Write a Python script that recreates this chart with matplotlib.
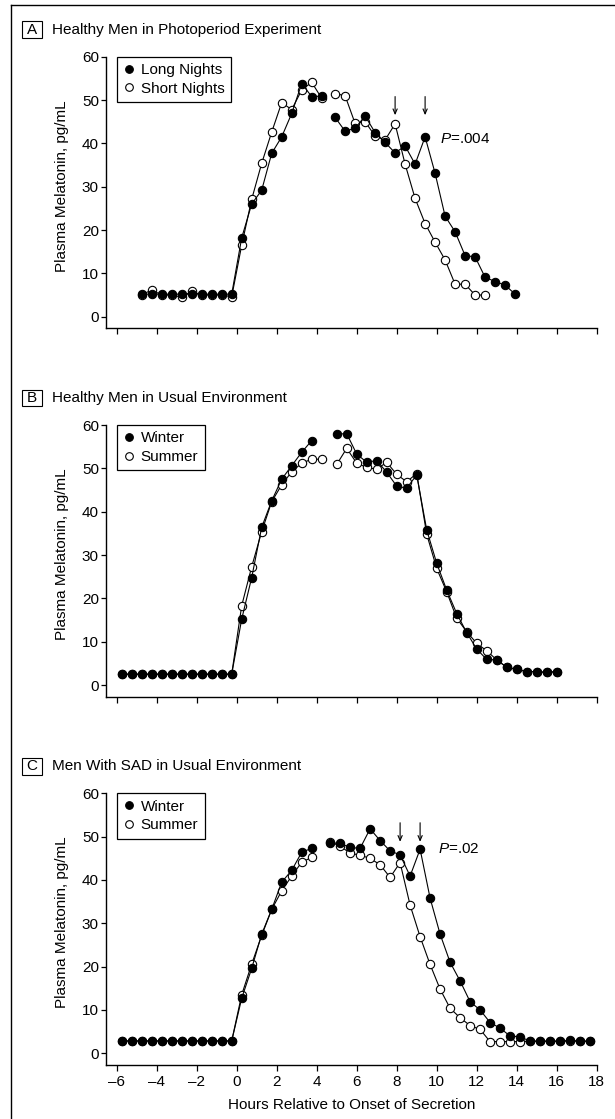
import matplotlib
matplotlib.use("Agg")
import matplotlib.pyplot as plt
from matplotlib.lines import Line2D
from matplotlib.patches import Rectangle

FONT = 'Liberation Sans'
plt.rcParams['font.family'] = [FONT, 'DejaVu Sans']
plt.rcParams['mathtext.fontset'] = 'custom'
plt.rcParams['mathtext.it'] = FONT + ':italic'
plt.rcParams['mathtext.rm'] = FONT

# ---------------- data ----------------
# Panel A
A_t_pre = [-4.75, -4.25, -3.75, -3.25, -2.75, -2.25, -1.75, -1.25, -0.75, -0.25,
           0.25, 0.75, 1.25, 1.75, 2.25, 2.75, 3.25, 3.75, 4.25]
A_long_pre = [5.2, 5.2, 5.2, 5.2, 5.2, 5.2, 5.2, 5.2, 5.2, 5.2,
              18.2, 26.0, 29.2, 37.7, 41.5, 46.9, 53.8, 50.8, 50.9]
A_short_pre = [5.0, 6.2, 5.0, 5.0, 4.5, 5.9, 5.0, 5.0, 5.0, 4.6,
               16.5, 27.1, 35.4, 42.6, 49.4, 47.8, 52.3, 54.1, 50.4]
A_t_post = [4.92, 5.42, 5.92, 6.42, 6.92, 7.42, 7.92, 8.42, 8.92, 9.42,
            9.92, 10.42, 10.92, 11.42, 11.92, 12.42, 12.92, 13.42, 13.92]
A_long_post = [46.0, 42.8, 43.5, 46.3, 42.5, 40.2, 37.8, 39.4, 35.2, 41.5,
               33.1, 23.2, 19.6, 14.1, 13.8, 9.1, 8.1, 7.3, 5.2]
A_short_post = [51.5, 51.0, 44.6, 45.0, 41.7, 40.8, 44.5, 35.2, 27.3, 21.5,
                17.2, 13.1, 7.5, 7.5, 5.0, 5.0]
A_arrows_t = [7.92, 9.42]

# Panel B
B_t_pre = [-5.75, -5.25, -4.75, -4.25, -3.75, -3.25, -2.75, -2.25, -1.75, -1.25, -0.75, -0.25,
           0.25, 0.75, 1.25, 1.75, 2.25, 2.75, 3.25, 3.75, 4.25]
B_winter_pre = [2.5, 2.5, 2.5, 2.5, 2.5, 2.5, 2.5, 2.5, 2.5, 2.5, 2.5, 2.5,
                15.2, 24.8, 36.4, 42.5, 47.5, 50.6, 53.7, 56.4]
B_summer_pre = [2.5, 2.5, 2.5, 2.5, 2.5, 2.5, 2.5, 2.5, 2.5, 2.5, 2.5, 2.5,
                18.3, 27.3, 35.4, 42.3, 46.2, 49.2, 51.2, 52.1, 52.1]
B_t_post = [5.0, 5.5, 6.0, 6.5, 7.0, 7.5, 8.0, 8.5, 9.0, 9.5, 10.0, 10.5,
            11.0, 11.5, 12.0, 12.5, 13.0, 13.5, 14.0, 14.5, 15.0, 15.5, 16.0]
B_winter_post = [57.9, 58.0, 53.3, 51.4, 51.8, 49.1, 45.9, 45.4, 48.5, 35.8, 28.1, 21.9,
                 16.5, 12.1, 8.3, 5.9, 5.8, 4.1, 3.6, 3.1, 3.1, 2.9, 3.1]
B_summer_post = [50.9, 54.6, 51.2, 50.2, 49.8, 51.4, 48.6, 46.9, 48.8, 34.8, 26.9, 21.5,
                 15.4, 12.3, 9.6, 7.9, 5.8, 4.1, 3.6, 3.1, 3.1, 2.9, 3.1]

# Panel C
C_t_pre = [-5.75, -5.25, -4.75, -4.25, -3.75, -3.25, -2.75, -2.25, -1.75, -1.25, -0.75, -0.25,
           0.25, 0.75, 1.25, 1.75, 2.25, 2.75, 3.25, 3.75]
C_winter_pre = [2.85, 2.85, 2.85, 2.85, 2.85, 2.85, 2.85, 2.85, 2.85, 2.85, 2.85, 2.85,
                12.7, 19.6, 27.5, 33.2, 39.5, 42.2, 46.4, 47.3]
C_summer_pre = [2.85, 2.85, 2.85, 2.85, 2.85, 2.85, 2.85, 2.85, 2.85, 2.85, 2.85, 2.85,
                13.5, 20.6, 27.2, 33.2, 37.5, 40.9, 44.1, 45.2]
C_t_post = [4.67, 5.17, 5.67, 6.17, 6.67, 7.17, 7.67, 8.17, 8.67, 9.17, 9.67, 10.17, 10.67,
            11.17, 11.67, 12.17, 12.67, 13.17, 13.67, 14.17, 14.67, 15.17, 15.67, 16.17,
            16.67, 17.17, 17.67]
C_winter_post = [48.5, 48.5, 47.5, 47.3, 51.8, 49.1, 46.7, 45.8, 40.9, 47.1, 35.8, 27.5, 21.0,
                 16.7, 11.9, 10.0, 7.1, 5.8, 4.0, 3.8, 2.8, 2.8, 2.8, 2.8, 3.0, 2.8, 2.8]
C_summer_post = [48.8, 47.8, 46.2, 45.7, 45.0, 43.5, 40.6, 44.0, 34.2, 26.9, 20.5, 14.8, 10.4,
                 8.2, 6.4, 5.5, 2.7, 2.7, 2.7, 2.7, 2.8, 2.8, 2.8, 2.8, 2.8, 2.8, 2.8]
C_arrows_t = [8.17, 9.17]

x_ticks = [-6, -4, -2, 0, 2, 4, 6, 8, 10, 12, 14, 16, 18]
y_ticks = [0, 10, 20, 30, 40, 50, 60]

panels = [
    dict(letter="A", title="Healthy Men in Photoperiod Experiment",
         labels=("Long Nights", "Short Nights"),
         filled=[(A_t_pre, A_long_pre), (A_t_post, A_long_post)],
         open_=[(A_t_pre, A_short_pre), (A_t_post[:len(A_short_post)], A_short_post)],
         arrows=A_arrows_t, arrow_y=(50.8, 46.5), ptext="=.004", ppos=(10.17, 41.0)),
    dict(letter="B", title="Healthy Men in Usual Environment",
         labels=("Winter", "Summer"),
         filled=[(B_t_pre[:len(B_winter_pre)], B_winter_pre), (B_t_post, B_winter_post)],
         open_=[(B_t_pre, B_summer_pre), (B_t_post, B_summer_post)],
         arrows=[], arrow_y=None, ptext=None, ppos=None),
    dict(letter="C", title="Men With SAD in Usual Environment",
         labels=("Winter", "Summer"),
         filled=[(C_t_pre, C_winter_pre), (C_t_post, C_winter_post)],
         open_=[(C_t_pre, C_summer_pre), (C_t_post, C_summer_post)],
         arrows=C_arrows_t, arrow_y=(53.2, 48.8), ptext="=.02", ppos=(10.08, 47.1)),
]

W, H = 615, 1119
fig = plt.figure(figsize=(W / 100, H / 100), dpi=100)

# figure border lines (top and left)
fig.add_artist(Line2D([10.7 / W, 1.0], [1 - 5.3 / H, 1 - 5.3 / H], color='black', lw=1.0))
fig.add_artist(Line2D([10.7 / W, 10.7 / W], [0.0, 1 - 5.3 / H], color='black', lw=1.0))

ax_left_px, ax_right_px = 106, 597.3
tops = [56.7, 425.0, 793.3]
ax_h_px = 271.7
fs = 11
ms = 6.0

for i, p in enumerate(panels):
    top = tops[i]
    bottom = top + ax_h_px
    ax = fig.add_axes([ax_left_px / W, 1 - bottom / H, (ax_right_px - ax_left_px) / W, ax_h_px / H])
    ax.set_xlim(-6.535, 18.03)
    ax.set_ylim(-2.7, 60)
    for s in ('top', 'right'):
        ax.spines[s].set_visible(False)
    for s in ('left', 'bottom'):
        ax.spines[s].set_linewidth(1.0)
    ax.set_xticks(x_ticks)
    ax.set_yticks(y_ticks)
    ax.tick_params(axis='y', direction='out', length=3.3, width=0.9, pad=1.8, labelsize=fs)
    ax.tick_params(axis='x', direction='out', length=4.3, width=0.9, pad=3.0, labelsize=fs)
    if i < 2:
        ax.set_xticklabels([])
    else:
        ax.set_xticklabels([f"{v}".replace('-', '\u2013') for v in x_ticks])

    for t, v in p['open_']:
        ax.plot(t, v, '-o', color='black', lw=0.8, ms=ms, mfc='white', mec='black', mew=0.8, zorder=3)
    for t, v in p['filled']:
        ax.plot(t, v, '-o', color='black', lw=0.8, ms=ms, mfc='black', mec='black', mew=0.8, zorder=4)

    for at in p['arrows']:
        ax.annotate('', xy=(at, p['arrow_y'][1]), xytext=(at, p['arrow_y'][0]),
                    arrowprops=dict(arrowstyle='->,head_length=0.35,head_width=0.15',
                                    lw=0.8, color='black', shrinkA=0, shrinkB=0))
    if p['ptext']:
        ax.text(p['ppos'][0], p['ppos'][1], '$P$' + p['ptext'], fontsize=fs,
                ha='left', va='center')

    handles = [Line2D([], [], ls='none', marker='o', ms=5.5, mfc='black', mec='black', mew=0.8),
               Line2D([], [], ls='none', marker='o', ms=5.5, mfc='white', mec='black', mew=0.8)]
    leg = ax.legend(handles, p['labels'], loc='upper left',
                    bbox_to_anchor=((117.3 - ax_left_px) / (ax_right_px - ax_left_px), 1.0),
                    borderaxespad=0, frameon=True, fancybox=False, fontsize=fs,
                    handlelength=0.75, handletextpad=0.35, borderpad=0.42,
                    labelspacing=0.3)
    fr = leg.get_frame()
    fr.set_edgecolor('black')
    fr.set_linewidth(0.9)
    fr.set_alpha(1)

    # panel label box and title
    cy = top - 27.0
    bx0, bx1 = 21.7, 41.7
    by0, by1 = cy - 8.3, cy + 8.3
    fig.add_artist(Rectangle((bx0 / W, 1 - by1 / H), (bx1 - bx0) / W, (by1 - by0) / H,
                             transform=fig.transFigure, fill=False, ec='black', lw=0.8))
    fig.text((bx0 + bx1) / 2 / W, 1 - cy / H, p['letter'], ha='center', va='center', fontsize=fs)
    fig.text(51.7 / W, 1 - cy / H, p['title'], ha='left', va='center', fontsize=fs)

    # y label
    fig.text(61.7 / W, 1 - (top + 129) / H, 'Plasma Melatonin, pg/mL', rotation=90,
             ha='center', va='center', fontsize=fs)

fig.text(351.7 / W, 1 - 1105 / H, 'Hours Relative to Onset of Secretion',
         ha='center', va='center', fontsize=fs)

fig.savefig('out.png', dpi=100)
